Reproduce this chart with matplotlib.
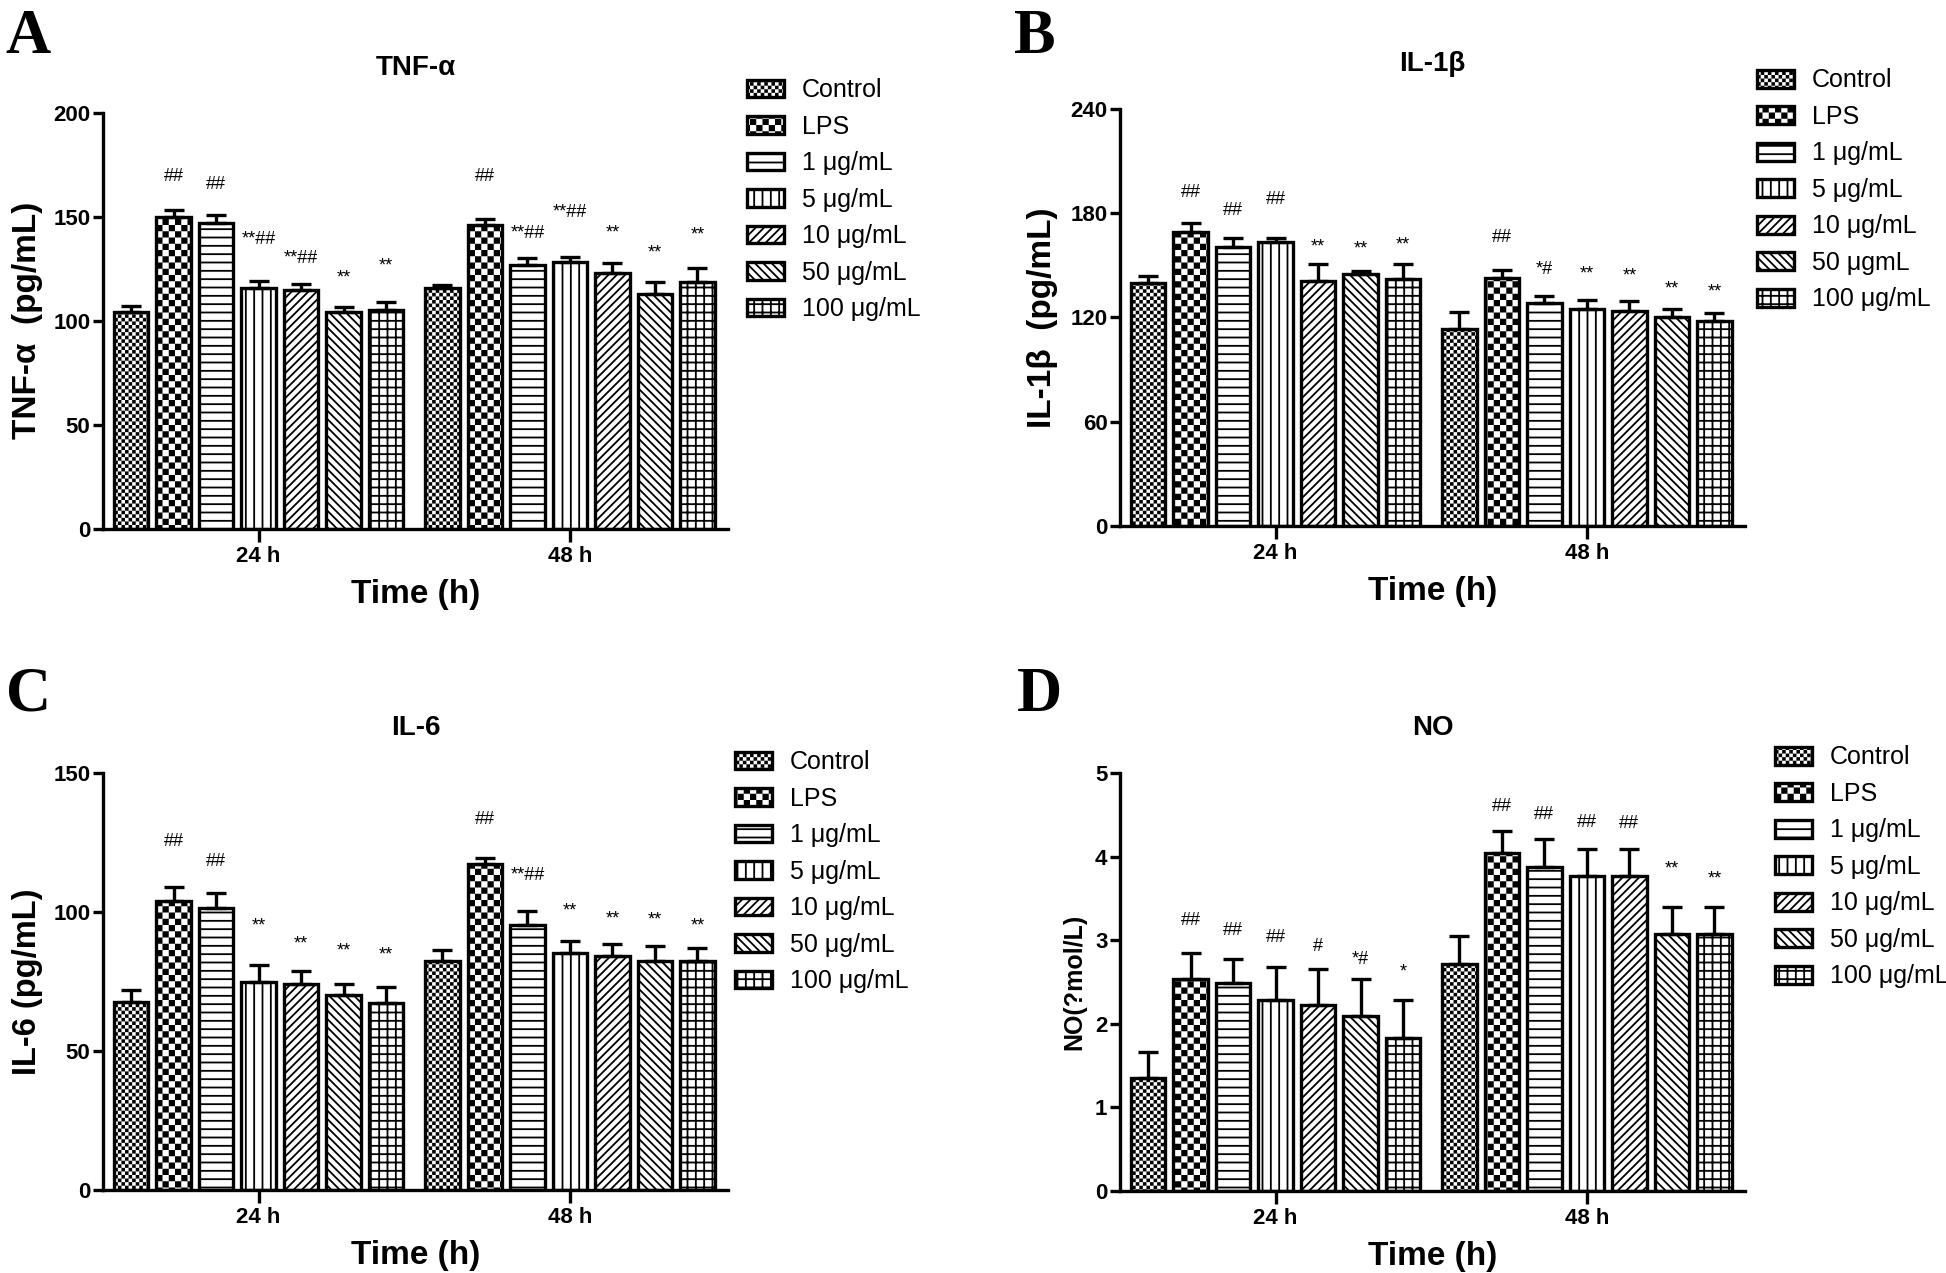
import warnings
import numpy as np
import matplotlib
matplotlib.use('Agg')
import matplotlib.pyplot as plt
import matplotlib.hatch as mhatch

warnings.filterwarnings('ignore')

# ---- data ----
groups = ['24 h', '48 h']
treatments = ['Control', 'LPS', '1 μg/mL', '5 μg/mL', '10 μg/mL', '50 μg/mL', '100 μg/mL']
treatments_b = ['Control', 'LPS', '1 μg/mL', '5 μg/mL', '10 μg/mL', '50 μgmL', '100 μg/mL']

# A: TNF-alpha (pg/mL)
tnf_24 = [104.4, 150.0, 147.0, 115.6, 115.0, 104.0, 105.0]
tnf_48 = [115.6, 145.8, 127.0, 128.0, 123.0, 113.0, 118.7]
tnf_err_24 = [2.6, 3.0, 4.0, 3.4, 2.7, 2.7, 3.8]
tnf_err_48 = [1.8, 3.2, 3.3, 2.7, 4.7, 5.5, 6.5]
tnf_sig_24 = ['', '##', '##', '**##', '**##', '**', '**']
tnf_sig_48 = ['', '##', '**##', '**##', '**', '**', '**']
tnf_sig_y_24 = [0, 169.5, 165.6, 139.0, 130.0, 120.6, 126.5]
tnf_sig_y_48 = [0, 169.5, 141.8, 152.0, 142.0, 132.6, 141.0]

# B: IL-1beta (pg/mL)
il1_24 = [140.0, 169.3, 160.4, 163.6, 141.2, 144.9, 142.4]
il1_48 = [113.4, 143.0, 128.4, 125.0, 123.7, 120.0, 118.2]
il1_err_24 = [4.0, 5.0, 5.6, 2.4, 9.8, 2.1, 8.4]
il1_err_48 = [9.8, 4.4, 4.2, 4.8, 5.7, 5.0, 4.3]
il1_sig_24 = ['', '##', '##', '##', '**', '**', '**']
il1_sig_48 = ['', '##', '*#', '**', '**', '**', '**']
il1_sig_y_24 = [0, 192.0, 181.4, 188.0, 160.8, 159.3, 162.0]
il1_sig_y_48 = [0, 166.0, 147.4, 144.9, 143.7, 136.2, 134.6]

# C: IL-6 (pg/mL)
il6_24 = [67.7, 104.1, 101.3, 74.8, 74.0, 70.1, 67.2]
il6_48 = [82.5, 117.1, 95.2, 85.4, 84.0, 82.5, 82.5]
il6_err_24 = [4.3, 4.9, 5.7, 6.2, 4.7, 3.9, 5.8]
il6_err_48 = [3.9, 2.4, 5.0, 4.1, 4.5, 5.1, 4.6]
il6_sig_24 = ['', '##', '##', '**', '**', '**', '**']
il6_sig_48 = ['', '##', '**##', '**', '**', '**', '**']
il6_sig_y_24 = [0, 125.3, 118.2, 94.8, 88.6, 86.0, 84.4]
il6_sig_y_48 = [0, 133.3, 113.2, 100.5, 97.6, 97.1, 95.1]

# D: NO
no_24 = [1.35, 2.53, 2.49, 2.29, 2.23, 2.09, 1.83]
no_48 = [2.72, 4.04, 3.88, 3.77, 3.77, 3.07, 3.07]
no_err_24 = [0.31, 0.32, 0.29, 0.39, 0.42, 0.44, 0.46]
no_err_48 = [0.33, 0.26, 0.33, 0.32, 0.32, 0.33, 0.33]
no_sig_24 = ['', '##', '##', '##', '#', '*#', '*']
no_sig_48 = ['', '##', '##', '##', '##', '**', '**']
no_sig_y_24 = [0, 3.23, 3.12, 3.03, 2.93, 2.77, 2.62]
no_sig_y_48 = [0, 4.60, 4.50, 4.41, 4.40, 3.85, 3.73]


# checkerboard hatch (GraphPad style), selected by 'c' in the hatch string
class CheckerHatch(mhatch.HatchPatternBase):
    def __init__(self, hatch, density):
        self.n = hatch.count('c') * 2          # periods per inch
        self.num_vertices = 2 * self.n * self.n * 5

    def set_vertices_and_codes(self, vertices, codes):
        cells = 2 * self.n
        cell = 1.0 / cells
        s = plt.rcParams['hatch.linewidth'] / 144.0   # stroke grows squares
        sq = np.array([[s, s], [cell - s, s], [cell - s, cell - s],
                       [s, cell - s], [s, s]])
        sq_codes = [1, 2, 2, 2, 79]
        k = 0
        for i in range(cells):
            for j in range(cells):
                if (i + j) % 2 == 0:
                    vertices[k:k + 5] = sq + [i * cell, j * cell]
                    codes[k:k + 5] = sq_codes
                    k += 5


mhatch._hatch_types.append(CheckerHatch)

plt.rcParams['font.family'] = ['Liberation Sans', 'DejaVu Sans']
plt.rcParams['hatch.linewidth'] = 1.3
plt.rcParams['hatch.color'] = 'black'

hatches = ['c' * 7, 'cccc', '--', '||', '////', '\\\\\\\\', '++']

fig = plt.figure(figsize=(19.46, 12.73), dpi=100)

panels = [
    dict(rect=[0.0529, 0.5845, 0.3212, 0.3271], letter='A', lx=0.003, ly=0.9584,
         title='TNF-α', ylabel='TNF-α  (pg/mL)', ylsize=24, ylx=-0.096,
         m24=tnf_24, m48=tnf_48, e24=tnf_err_24, e48=tnf_err_48,
         s24=tnf_sig_24, s48=tnf_sig_48, sy24=tnf_sig_y_24, sy48=tnf_sig_y_48,
         yticks=[0, 50, 100, 150, 200], labels=treatments, leg=(0.3839, 0.9385)),
    dict(rect=[0.5755, 0.5868, 0.3212, 0.3276], letter='B', lx=0.521, ly=0.9584,
         title='IL-1β', ylabel='IL-1β  (pg/mL)', ylsize=24, ylx=-0.099,
         m24=il1_24, m48=il1_48, e24=il1_err_24, e48=il1_err_48,
         s24=il1_sig_24, s48=il1_sig_48, sy24=il1_sig_y_24, sy48=il1_sig_y_48,
         yticks=[0, 60, 120, 180, 240], labels=treatments_b, leg=(0.9029, 0.9463)),
    dict(rect=[0.0529, 0.0652, 0.3212, 0.3276], letter='C', lx=0.003, ly=0.4415,
         title='IL-6', ylabel='IL-6 (pg/mL)', ylsize=23.5, ylx=-0.096,
         m24=il6_24, m48=il6_48, e24=il6_err_24, e48=il6_err_48,
         s24=il6_sig_24, s48=il6_sig_48, sy24=il6_sig_y_24, sy48=il6_sig_y_48,
         yticks=[0, 50, 100, 150], labels=treatments, leg=(0.3777, 0.4106)),
    dict(rect=[0.5755, 0.0644, 0.3212, 0.3284], letter='D', lx=0.5226, ly=0.4415,
         title='NO', ylabel='NO(?mol/L)', ylsize=18, ylx=-0.054,
         m24=no_24, m48=no_48, e24=no_err_24, e48=no_err_48,
         s24=no_sig_24, s48=no_sig_48, sy24=no_sig_y_24, sy48=no_sig_y_48,
         yticks=[0, 1, 2, 3, 4, 5], labels=treatments, leg=(0.9121, 0.4145)),
]

x_groups = np.arange(len(groups))
pitch = 0.1366
bw = 0.111

for p in panels:
    ax = fig.add_axes(p['rect'])
    means = np.array([p['m24'], p['m48']])
    errs = np.array([p['e24'], p['e48']])
    sigs = [p['s24'], p['s48']]
    sig_y = [p['sy24'], p['sy48']]
    for k in range(len(treatments)):
        xs = x_groups + (k - 3) * pitch
        ax.bar(xs, means[:, k], width=bw, color='white', edgecolor='black',
               linewidth=2.4, hatch=hatches[k], label=p['labels'][k], zorder=2)
        ax.errorbar(xs, means[:, k], yerr=[np.zeros(2), errs[:, k]], fmt='none',
                    ecolor='black', elinewidth=2.4, capsize=7, capthick=2.4, zorder=3)
        for g in range(2):
            if sigs[g][k]:
                ax.text(xs[g], sig_y[g][k], sigs[g][k], ha='center', va='center',
                        fontsize=13, color='black')

    ax.set_xlim(-0.5, 1.508)
    ax.set_ylim(p['yticks'][0], p['yticks'][-1])
    ax.set_yticks(p['yticks'])
    ax.set_xticks(x_groups, groups)
    for side in ['top', 'right']:
        ax.spines[side].set_visible(False)
    for side in ['left', 'bottom']:
        ax.spines[side].set_linewidth(2.4)
    ax.tick_params(axis='y', length=7, width=2.4, pad=2, labelsize=16)
    ax.tick_params(axis='x', length=9, width=2.4, pad=3, labelsize=16)
    for lab in ax.get_xticklabels() + ax.get_yticklabels():
        lab.set_fontweight('bold')
    ax.set_xlabel('Time (h)', fontsize=24, fontweight='bold', labelpad=9)
    ax.set_ylabel(p['ylabel'], fontsize=p['ylsize'], fontweight='bold')
    ax.yaxis.set_label_coords(p['ylx'], 0.5)
    ax.set_title(p['title'], fontsize=20, fontweight='bold', pad=27)

    ax.legend(loc='upper left', bbox_to_anchor=p['leg'], bbox_transform=fig.transFigure,
              frameon=False, fontsize=18, handlelength=1.48, handleheight=0.72,
              handletextpad=0.72, labelspacing=0.5, borderpad=0, borderaxespad=0)

    fig.text(p['lx'], p['ly'], p['letter'], family=['Liberation Serif', 'DejaVu Serif'],
             fontweight='bold', fontsize=45, va='baseline', ha='left')

fig.savefig('out.png', dpi=100)
